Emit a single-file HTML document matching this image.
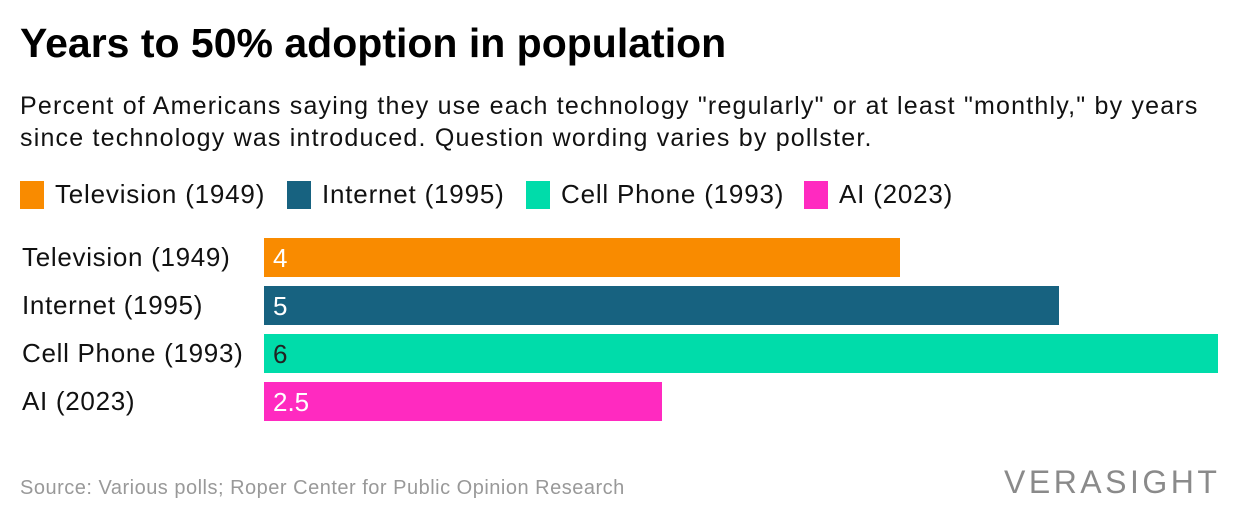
<!DOCTYPE html>
<html><head><meta charset="utf-8">
<style>
body{margin:0;width:1240px;height:524px;background:#fff;font-family:"Liberation Sans",sans-serif;position:relative;overflow:hidden;color:#111}
.t{position:absolute;white-space:nowrap}
</style></head>
<body>
<div class="t" style="left:20px;top:20px;font-size:41px;font-weight:bold;color:#000">Years to 50% adoption in population</div>
<div class="t" style="left:20px;top:90px;font-size:25px;line-height:32px;color:#111;white-space:normal;width:1200px;letter-spacing:1.2px">Percent of Americans saying they use each technology "regularly" or at least "monthly," by years since technology was introduced. Question wording varies by pollster.</div>
<div id="legend"></div>
<div id="chart"></div>
<div class="t" style="left:20px;top:477px;font-size:20px;color:#999;letter-spacing:0.5px">Source: Various polls; Roper Center for Public Opinion Research</div>
<div class="t" style="left:1004px;top:464px;font-size:32px;letter-spacing:3.5px;color:#8a8a8a">VERASIGHT</div>
<script>
const categories=["Television (1949)","Internet (1995)","Cell Phone (1993)","AI (2023)"];
const values=[4,5,6,2.5];
const labels=["4","5","6","2.5"];
const colors=["#f98b00","#176280","#00dcaa","#ff2ac0"];
const textColors=["#fff","#fff","#222","#fff"];
const x0=264,unit=159;
function xScale(v){return v*unit;}
const chart=document.getElementById('chart');
categories.forEach((c,i)=>{
  const y=238+i*48;
  const lab=document.createElement('div');
  lab.className='t';lab.style.cssText=`left:22px;top:${y+4}px;font-size:26px;color:#111;letter-spacing:0.7px`;
  lab.textContent=c;
  
  
  chart.appendChild(lab);
  const b=document.createElement('div');
  b.style.cssText=`position:absolute;left:${x0}px;top:${y}px;height:39px;width:${xScale(values[i])}px;background:${colors[i]}`;
  
  
  chart.appendChild(b);
  const v=document.createElement('div');
  v.className='t';v.style.cssText=`left:${x0+9}px;top:${y+5}px;font-size:26px;color:${textColors[i]}`;
  v.textContent=labels[i];
  
  
  chart.appendChild(v);
});
const legendX=[20,287,526,804];
const lg=document.getElementById('legend');
categories.forEach((c,i)=>{
  const sw=document.createElement('div');
  sw.style.cssText=`position:absolute;left:${legendX[i]}px;top:181px;width:24px;height:28px;background:${colors[i]}`;
  
  
  lg.appendChild(sw);
  const t=document.createElement('div');
  t.className='t';t.style.cssText=`left:${legendX[i]+35}px;top:179px;font-size:26px;color:#111;letter-spacing:0.8px`;
  t.textContent=c;
  
  
  lg.appendChild(t);
});
</script>
</body></html>
